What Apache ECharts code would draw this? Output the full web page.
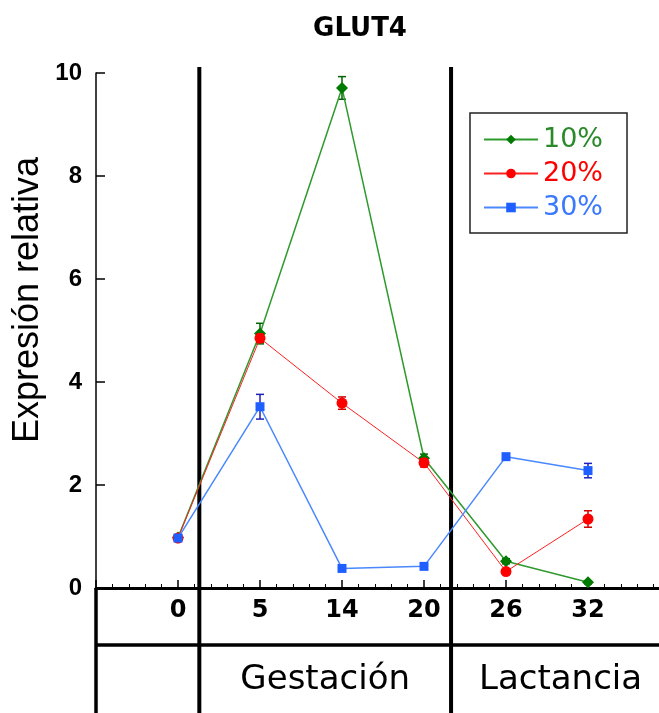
<!DOCTYPE html>
<html>
<head>
<meta charset="utf-8">
<script src="https://cdn.jsdelivr.net/npm/echarts@6/dist/echarts.min.js"></script>
<style>
  html, body { margin: 0; padding: 0; background: #fff; }
  #chart { width: 659px; height: 713px; }
</style>
</head>
<body>
<div id="chart"></div>
<script>
// Sampling days (equally spaced on the time axis)
const days = ['0', '5', '14', '20', '26', '32'];

// Relative GLUT4 expression, mean and error per diet group
const pct10 = [0.98, 4.94, 9.71, 2.52, 0.52, 0.11];
const err10 = [0.05, 0.20, 0.22, 0.08, 0.05, 0.03];
const pct20 = [0.97, 4.85, 3.59, 2.43, 0.32, 1.34];
const err20 = [0.05, 0.08, 0.12, 0.08, 0.05, 0.16];
const pct30 = [0.97, 3.52, 0.38, 0.42, 2.55, 2.28];
const err30 = [0.05, 0.24, 0.04, 0.04, 0.04, 0.14];

// Period bands on the index axis
const periodNames = ['Gestación', 'Lactancia'];
const periodBounds = [0.26, 3.33, 6];

const yTicks = [0, 2, 4, 6, 8, 10];

const chart = echarts.init(document.getElementById('chart'), null, { renderer: 'canvas' });

function errorSeries(name, values, errs, color, z) {
  return {
    type: 'custom',
    name: name,
    z: z,
    silent: true,
    data: values.map((v, i) => [i, v - errs[i], v + errs[i]]),
    encode: { x: 0, y: [1, 2] },
    renderItem: function (params, api) {
      const lo = api.coord([api.value(0), api.value(1)]);
      const hi = api.coord([api.value(0), api.value(2)]);
      const w = 4;
      const style = { stroke: color, lineWidth: 1.5 };
      return {
        type: 'group',
        children: [
          { type: 'line', shape: { x1: lo[0], y1: lo[1], x2: hi[0], y2: hi[1] }, style: style },
          { type: 'line', shape: { x1: lo[0] - w, y1: lo[1], x2: lo[0] + w, y2: lo[1] }, style: style },
          { type: 'line', shape: { x1: hi[0] - w, y1: hi[1], x2: hi[0] + w, y2: hi[1] }, style: style }
        ]
      };
    }
  };
}

function lineSeries(name, values, symbol, size, markerColor, lineColor, lineWidth, z) {
  return {
    type: 'line',
    name: name,
    z: z,
    data: values.map((v, i) => [i, v]),
    symbol: symbol,
    symbolSize: size,
    showAllSymbol: true,
    itemStyle: { color: markerColor },
    lineStyle: { color: lineColor, width: lineWidth },
    emphasis: { disabled: true }
  };
}

const option = {
  animation: false,
  backgroundColor: '#fff',
  grid: { left: 96, top: 73, width: 574, height: 515, containLabel: false, outerBoundsMode: 'none' },
  xAxis: {
    type: 'value',
    min: -1,
    max: 6,
    interval: 1,
    axisLine: { show: true, onZero: false, lineStyle: { color: '#000', width: 3 } },
    axisTick: { show: true, inside: true, length: 8, lineStyle: { color: '#000', width: 1.5 } },
    minorTick: { show: true, splitNumber: 5, length: 4, lineStyle: { color: '#000', width: 1 } },
    splitLine: { show: false },
    minorSplitLine: { show: false },
    axisLabel: {
      margin: 11,
      fontFamily: 'DejaVu Sans',
      fontWeight: 'bold',
      fontSize: 24,
      color: '#000',
      formatter: function (v) {
        const i = Math.round(v);
        return (i >= 0 && i < days.length && Math.abs(v - i) < 1e-6) ? days[i] : '';
      }
    }
  },
  yAxis: {
    type: 'value',
    min: 0,
    max: 10,
    interval: 2,
    axisLine: { show: true, onZero: false, lineStyle: { color: '#000', width: 1.5 } },
    axisTick: { show: true, inside: true, length: 9, lineStyle: { color: '#000', width: 1.5 } },
    splitLine: { show: false },
    axisLabel: {
      margin: 14,
      fontFamily: 'Liberation Sans',
      fontWeight: 'bold',
      fontSize: 24,
      color: '#000',
      formatter: function (v) { return yTicks.indexOf(v) >= 0 ? String(v) : ''; }
    }
  },
  legend: {
    orient: 'vertical',
    left: 470,
    top: 113,
    padding: [13, 24, 12, 13],
    itemGap: 7,
    itemWidth: 54,
    itemHeight: 12,
    borderColor: '#222',
    borderWidth: 1.5,
    selectedMode: false,
    textStyle: { fontFamily: 'DejaVu Sans', fontSize: 27 },
    data: [
      { name: '10%', textStyle: { color: '#2a8a2a' } },
      { name: '20%', textStyle: { color: '#ff0000' } },
      { name: '30%', textStyle: { color: '#3a78ff' } }
    ]
  },
  series: [
    lineSeries('10%', pct10, 'diamond', 12, '#007a00', '#2e9a2e', 1.5, 3),
    errorSeries('10% error', pct10, err10, '#006400', 3),
    lineSeries('20%', pct20, 'circle', 11, '#ff0000', '#ff2020', 1, 4),
    errorSeries('20% error', pct20, err20, '#d00000', 4),
    lineSeries('30%', pct30, 'rect', 9, '#1f5fff', '#4a88ff', 1.5, 5),
    errorSeries('30% error', pct30, err30, '#2020c0', 5)
  ]
};

chart.setOption(option);

// Frame lines and period labels, positioned through the x axis
function px(v) { return chart.convertToPixel({ xAxisIndex: 0 }, v); }
const x0 = 96, xEnd = 659, yAxisBase = 588, yRow = 645, yBottom = 713;
const thick = { stroke: '#000', lineWidth: 3.5 };
const graphics = [
  {
    type: 'text',
    style: { text: 'GLUT4', x: 360, y: 29, textAlign: 'center', textVerticalAlign: 'middle',
      font: 'bold 26px "DejaVu Sans"', fill: '#000' }
  },
  {
    type: 'text',
    rotation: Math.PI / 2,
    x: 28, y: 300,
    style: { text: 'Expresión relativa', x: 0, y: 0, textAlign: 'center', textVerticalAlign: 'middle',
      font: '36px "Liberation Sans"', fill: '#000' }
  },
  { type: 'line', shape: { x1: x0, y1: yRow, x2: xEnd, y2: yRow }, style: thick },
  { type: 'line', shape: { x1: x0, y1: yAxisBase, x2: x0, y2: yBottom }, style: thick }
];
periodBounds.slice(0, 2).forEach(function (b) {
  const x = px(b);
  graphics.push({ type: 'line', shape: { x1: x, y1: 67, x2: x, y2: yBottom }, style: { stroke: '#000', lineWidth: 4 } });
});
periodNames.forEach(function (name, i) {
  const cx = (px(periodBounds[i]) + px(periodBounds[i + 1])) / 2;
  graphics.push({
    type: 'text',
    style: { text: name, x: cx, y: 680, textAlign: 'center', textVerticalAlign: 'middle',
      font: '34px "DejaVu Sans"', fill: '#000' }
  });
});
chart.setOption({ graphic: graphics });
</script>
</body>
</html>
